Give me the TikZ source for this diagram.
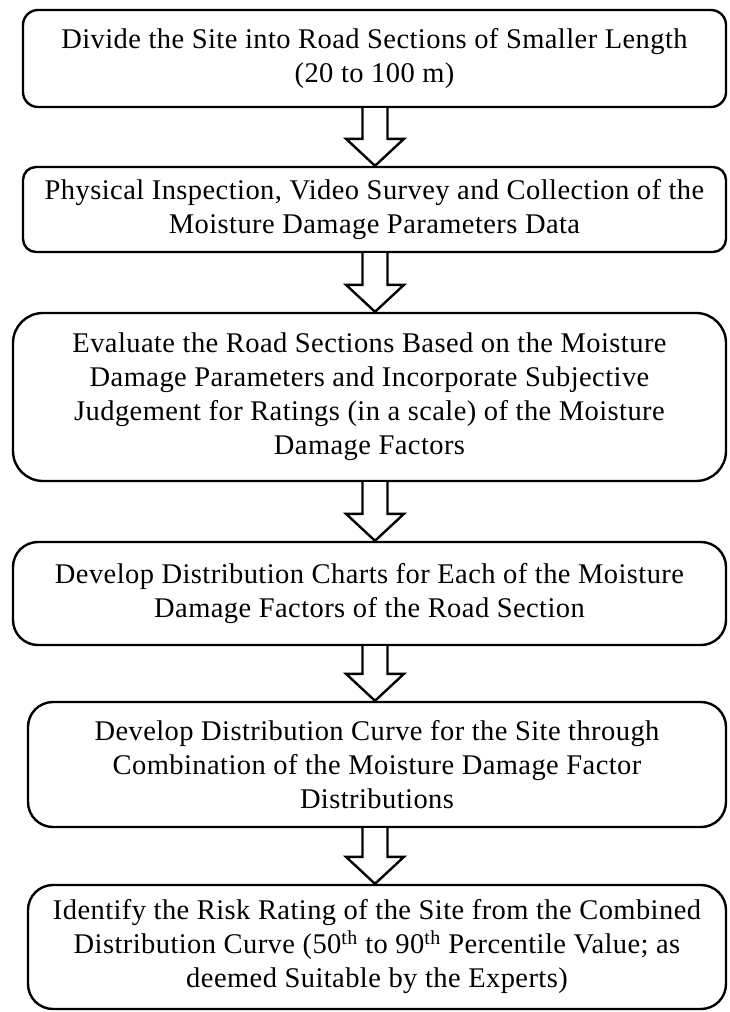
\documentclass[tikz,border=0pt]{standalone}
\usepackage{fontspec}
\setmainfont[LetterSpace=1.5]{Liberation Serif}
\usetikzlibrary{calc}

\tikzset{
  stepbox/.style={draw=black, line width=2.4pt, fill=white, rounded corners=#1,
    align=center, inner sep=0pt, font=\fontsize{28.5}{34}\selectfont},
  stepbox/.default=15pt,
  blockarrow/.style={draw=black, line width=2.4pt, fill=white, line join=miter},
}

% hollow down arrow from the bottom of box #1 to the top of box #2
\newcommand{\flowarrow}[2]{%
  \draw[blockarrow]
    ($(#1.south -| axis)+(-12.5,0)$) --
    ($(#2.north -| axis)+(-12.5,-27)$) -- ++(-16.5,0) --
    (#2.north -| axis) --
    ($(#2.north -| axis)+(29,-27)$) -- ++(-16.5,0) --
    ($(#1.south -| axis)+(12.5,0)$);
}

\begin{document}
\begin{tikzpicture}[x=1pt, y=-1pt]
  \useasboundingbox (0,0) rectangle (729,1012);
  \coordinate (axis) at (375,0);

  \node[stepbox=15pt, minimum width=703pt, minimum height=97pt] (b1) at (374.5,58.5)
    {Divide the Site into Road Sections of Smaller Length\\(20 to 100 m)};
  \node[stepbox=13pt, minimum width=703pt, minimum height=85pt] (b2) at (374.5,209.5)
    {Physical Inspection, Video Survey and Collection of the\\Moisture Damage Parameters Data};
  \node[stepbox=30pt, minimum width=713pt, minimum height=168pt] (b3) at (369.5,397)
    {Evaluate the Road Sections Based on the Moisture\\Damage Parameters and Incorporate Subjective\\Judgement for Ratings (in a scale) of the Moisture\\Damage Factors};
  \node[stepbox=25pt, minimum width=713pt, minimum height=103pt] (b4) at (369.5,593.5)
    {Develop Distribution Charts for Each of the Moisture\\Damage Factors of the Road Section};
  \node[stepbox=25pt, minimum width=698pt, minimum height=125pt] (b5) at (377,764.5)
    {Develop Distribution Curve for the Site through\\Combination of the Moisture Damage Factor\\Distributions};
  \node[stepbox=25pt, minimum width=698pt, minimum height=124pt] (b6) at (377,947)
    {Identify the Risk Rating of the Site from the Combined\\Distribution Curve (50\textsuperscript{th} to 90\textsuperscript{th} Percentile Value; as\\deemed Suitable by the Experts)};

  \flowarrow{b1}{b2}
  \flowarrow{b2}{b3}
  \flowarrow{b3}{b4}
  \flowarrow{b4}{b5}
  \flowarrow{b5}{b6}
\end{tikzpicture}
\end{document}
